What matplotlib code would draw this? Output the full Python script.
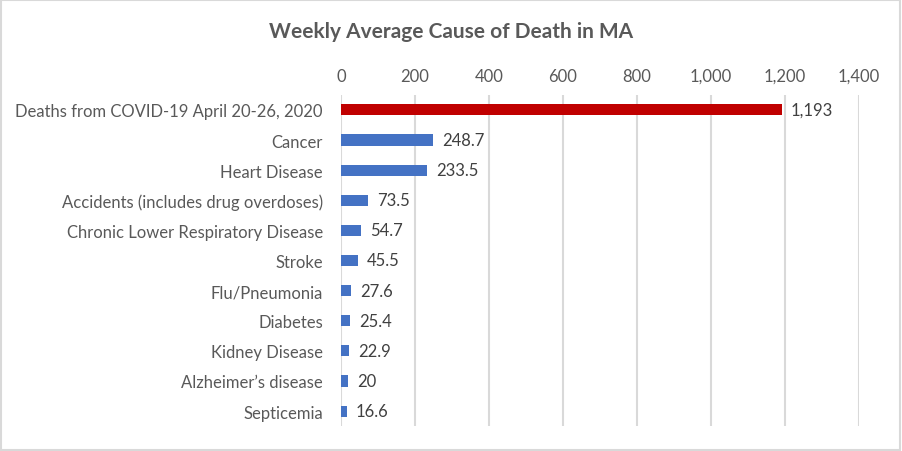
import matplotlib
matplotlib.use('Agg')
import matplotlib.pyplot as plt
from matplotlib.patches import Rectangle

categories = ['Deaths from COVID-19 April 20-26, 2020', 'Cancer', 'Heart Disease',
              'Accidents (includes drug overdoses)', 'Chronic Lower Respiratory Disease',
              'Stroke', 'Flu/Pneumonia', 'Diabetes', 'Kidney Disease',
              'Alzheimer\u2019s disease', 'Septicemia']
values = [1193, 248.7, 233.5, 73.5, 54.7, 45.5, 27.6, 25.4, 22.9, 20, 16.6]
labels = ['1,193', '248.7', '233.5', '73.5', '54.7', '45.5', '27.6', '25.4', '22.9', '20', '16.6']
ticks = [0, 200, 400, 600, 800, 1000, 1200, 1400]
tick_labels = ['0', '200', '400', '600', '800', '1,000', '1,200', '1,400']

plt.rcParams['font.family'] = ['Lato', 'DejaVu Sans']

fig = plt.figure(figsize=(9.02, 4.52), dpi=100)
ax = fig.add_axes([0.378, 0.055, 0.574, 0.733])

colors = ['#c00000'] + ['#4472c4'] * (len(values) - 1)
ypos = list(range(len(values)))
ax.barh(ypos, values, height=0.37, color=colors, zorder=3)
for y, v, lab in zip(ypos, values, labels):
    ax.text(v + 24, y, lab, va='center', ha='left', fontsize=12, color='#404040')

ax.set_xlim(0, 1400)
ax.set_ylim(len(values) - 0.5, -0.5)
ax.set_yticks(ypos)
ax.set_yticklabels(categories, fontsize=12, color='#595959')
ax.set_xticks(ticks)
ax.set_xticklabels(tick_labels, fontsize=12, color='#595959')
ax.xaxis.tick_top()
ax.tick_params(axis='both', length=0, pad=8)
ax.tick_params(axis='y', pad=13)
ax.grid(axis='x', color='#d9d9d9', linewidth=1.5, zorder=0)
for s in ax.spines.values():
    s.set_visible(False)

fig.text(0.5, 0.93, 'Weekly Average Cause of Death in MA', ha='center', va='center',
         fontsize=15, fontweight='bold', color='#595959')
fig.patches.append(Rectangle((0.001, 0.002), 0.997, 0.995, transform=fig.transFigure,
                             fill=False, edgecolor='#d9d9d9', linewidth=1.5))

fig.savefig('out.png', dpi=100)
